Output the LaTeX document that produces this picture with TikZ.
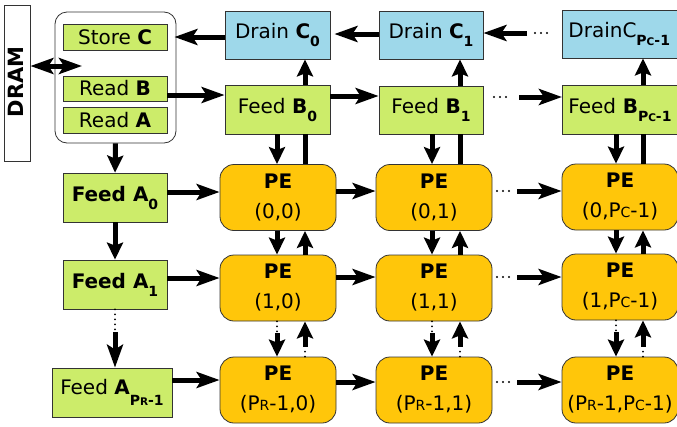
\documentclass[tikz,border=0pt]{standalone}
\usepackage{fontspec}
\setmainfont{DejaVu Sans}
\usetikzlibrary{arrows.meta}
\definecolor{gfill}{HTML}{CCEC6A}
\definecolor{bfill}{HTML}{9ED8EA}
\definecolor{pfill}{HTML}{FFC60A}
\newcommand\subx[2][-0.4em]{\raisebox{#1}{\fontsize{14}{14}\selectfont\bfseries #2}}
\newcommand\smA[1]{{\fontsize{14}{14}\selectfont #1}}
\newcommand\smB[1]{{\fontsize{10.5}{10.5}\selectfont #1}}
\begin{document}
\begin{tikzpicture}[x=1pt,y=-1pt, font=\fontsize{20}{24}\selectfont,
 basebox/.style={draw=black!80, line width=0.8pt, inner sep=0pt},
 gbox/.style={basebox, fill=gfill},
 bbox/.style={basebox, fill=bfill},
 penode/.style={basebox, fill=pfill, rounded corners=14pt, minimum width=116, minimum height=66, align=center},
 htip/.tip={Stealth[length=23pt,width=16pt,inset=5pt]},
 vtip/.tip={Stealth[length=17pt,width=16pt,inset=3pt]},
 arr/.style={line width=5pt, -htip},
 varr/.style={line width=5pt, -vtip},
 darr/.style={line width=5pt, htip-htip},
 ln/.style={line width=5pt},
 dotrow/.style={line width=2.2pt, line cap=round, dash pattern=on 0pt off 6pt},
 dotv/.style={line width=2pt, line cap=round, dash pattern=on 0pt off 5pt},
]
\useasboundingbox (0,0) rectangle (677,426);
\clip (0,0) rectangle (677,426);

% DRAM
\node[basebox, fill=white, minimum width=26, minimum height=156] (dram) at (17,83) {};
\node[rotate=90, font=\fontsize{21}{21}\selectfont\bfseries] (dramt) at (16,82) {DRAM};

% container
\node[draw=black!80, line width=0.8pt, rounded corners=12pt, minimum width=121, minimum height=131, fill=white] (cont) at (115.5,77.5) {};
\node[gbox, minimum width=104, minimum height=26] (sc) at (115,37) {Store \textbf{C}};
\node[gbox, minimum width=104, minimum height=25] (rb) at (115,88.5) {Read \textbf{B}};
\node[gbox, minimum width=104, minimum height=26] (ra) at (115,120) {Read \textbf{A}};

% drain row
\node[bbox, minimum width=105, minimum height=48] (dc0) at (277.5,35) {Drain \textbf{C}\subx{0}};
\node[bbox, minimum width=104, minimum height=48] (dc1) at (431,35) {Drain \textbf{C}\subx{1}};
\node[bbox, anchor=west, minimum height=48, text width=130, inner xsep=6, align=left] (dcp) at (562,34) {DrainC\subx{P\smB{C}-1}};

% feed B row
\node[gbox, minimum width=105, minimum height=49] (fb0) at (277.5,109.5) {Feed \textbf{B}\subx{0}};
\node[gbox, minimum width=104, minimum height=48] (fb1) at (431,110) {Feed \textbf{B}\subx{1}};
\node[gbox, anchor=west, minimum height=49, text width=130, inner xsep=6, align=left] (fbp) at (562,109.5) {Feed \textbf{B}\subx{P\smB{C}-1}};

% feed A column
\node[gbox, minimum width=104, minimum height=49] (fa0) at (115,197.5) {\textbf{Feed A}\subx{0}};
\node[gbox, minimum width=104, minimum height=49] (fa1) at (115,284.5) {\textbf{Feed A}\subx{1}};
\node[gbox, minimum width=120, minimum height=49] (fap) at (112,392.5) {Feed \textbf{A}\subx[-0.55em]{P\smB{R}-1}};

% PE array
\node[penode] (pe00) at (278,197.5) {\textbf{PE}\\[6pt](0,0)};
\node[penode] (pe01) at (434,197.5) {\textbf{PE}\\[6pt](0,1)};
\node[penode] (pe0p) at (620,197) {\textbf{PE}\\[6pt](0,P\smA{C}-1)};
\node[penode] (pe10) at (278,288) {\textbf{PE}\\[6pt](1,0)};
\node[penode] (pe11) at (434,288) {\textbf{PE}\\[6pt](1,1)};
\node[penode] (pe1p) at (620,287) {\textbf{PE}\\[6pt](1,P\smA{C}-1)};
\node[penode] (pe20) at (278,390) {\textbf{PE}\\[6pt](P\smA{R}-1,0)};
\node[penode] (pe21) at (434,390) {\textbf{PE}\\[6pt](P\smA{R}-1,1)};
\node[penode] (pe2p) at (620,390) {\textbf{PE}\\[6pt](P\smA{R}-1,P\smA{C}-1)};

% left side arrows
\coordinate (dtip) at (82,66);
\draw[darr] (dram.east |- dtip) -- (dtip);
\draw[arr, shorten >=7pt] (dc0.west |- sc.east) -- (sc.east);
\coordinate (yrb) at (0,95);
\draw[arr] (rb.east |- yrb) -- (fb0.west |- yrb);
\draw[varr] (cont.south) -- (fa0.north);
\draw[varr] (fa0.south) -- (fa1.north);
\draw[dotv] (fa1.south) -- ++(0,20);
\draw[arr, shorten <=23pt] (fa1.south) -- (fa1.south |- fap.north);

% drain row arrows
\coordinate (hd) at (0,34);
\draw[arr, shorten >=4pt] (dc1.west |- hd) -- (dc0.east |- hd);
\draw[dotrow] (535,33) -- (547,33);
\coordinate (sd) at (527,33);
\draw[arr] (sd) -- (dc1.east |- sd);

% feed B row arrows
\coordinate (hb) at (0,96);
\draw[arr] (fb0.east |- hb) -- (fb1.west |- hb);
\draw[dotrow] (494,97) -- (510,97);
\coordinate (sb) at (519,97);
\draw[arr] (sb) -- (fbp.west |- sb);

% feed A -> PE
\coordinate (ha0) at (0,192);
\coordinate (ha1) at (0,278);
\coordinate (ha2) at (0,380);
\draw[arr] (fa0.east |- ha0) -- (pe00.west |- ha0);
\draw[arr] (fa1.east |- ha1) -- (pe10.west |- ha1);
\draw[arr] (fap.east |- ha2) -- (pe20.west |- ha2);

% PE row arrows
\coordinate (h0) at (0,191);
\coordinate (h1) at (0,277);
\coordinate (h2) at (0,382);
\draw[arr] (pe00.east |- h0) -- (pe01.west |- h0);
\draw[arr] (pe10.east |- h1) -- (pe11.west |- h1);
\draw[arr] (pe20.east |- h2) -- (pe21.west |- h2);
\draw[dotrow] (497,191) -- (510,191);
\draw[dotrow] (497,277) -- (510,277);
\draw[dotrow] (497,382) -- (510,382);
\coordinate (s0) at (517,191);
\coordinate (s1) at (517,277);
\coordinate (s2) at (517,382);
\draw[arr] (s0) -- (pe0p.west |- s0);
\draw[arr] (s1) -- (pe1p.west |- s1);
\draw[arr] (s2) -- (pe2p.west |- s2);

% vertical connections per column
\foreach \c/\dx/\ux in {0/277/305, 1/432/460, p/616/643}{
  \coordinate (d\c) at (\dx,0);
  \coordinate (u\c) at (\ux,0);
  \draw[varr] (fb\c.north -| u\c) -- (dc\c.south -| u\c);
  \draw[varr] (fb\c.south -| d\c) -- (pe0\c.north -| d\c);
  \draw[ln] (pe0\c.north -| u\c) -- (fb\c.south -| u\c);
  \draw[varr] (pe0\c.south -| d\c) -- (pe1\c.north -| d\c);
  \draw[varr] (pe1\c.north -| u\c) -- (pe0\c.south -| u\c);
  \draw[dotv] (pe1\c.south -| d\c) -- ++(0,12);
  \draw[varr, shorten <=12pt] (pe1\c.south -| d\c) -- (pe2\c.north -| d\c);
  \draw[dotv] (pe2\c.north -| u\c) -- ++(0,-10);
  \draw[varr, shorten <=10pt] (pe2\c.north -| u\c) -- (pe1\c.south -| u\c);
}
\end{tikzpicture}
\end{document}
